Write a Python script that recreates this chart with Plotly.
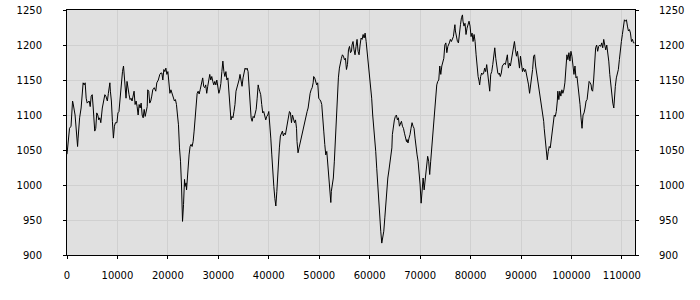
import plotly.graph_objects as go

# (x, value) pairs, split in segments along x
seg_a = [(0,1044),(200,1062),(500,1081),(800,1084),(1100,1120),(1200,1117),(1600,1100),(1800,1077),(2100,1055),(2200,1067),(2500,1096),(2800,1110),(3000,1129),(3200,1146),(3400,1143),(3600,1146),(3800,1124),(4000,1117),(4400,1120),(4600,1112),(4800,1127),(5000,1129),(5200,1110),(5500,1077),(5700,1081),(5900,1103),(6100,1100),(6300,1093),(6500,1096),(6700,1089),(7000,1110),(7300,1120),(7500,1129),(7700,1127),(8000,1120),(8200,1131),(8500,1146),(8600,1134),(8800,1120),(9000,1091),(9200,1067),(9400,1084),(9600,1089),(9900,1089),(10100,1103),(10300,1105),(10600,1134),(10800,1153),(11000,1162),(11200,1170),(11400,1155),(11600,1141),(11700,1124),(11900,1148),(12100,1134),(12300,1129),(12500,1122),(12700,1124),(12900,1120),(13100,1127),(13300,1134),(13500,1115),(13700,1120),(13900,1112),(14100,1100),(14300,1115),(14500,1110),(14700,1117),(14900,1100),(15100,1096),(15300,1108),(15500,1098),(15700,1105),(15900,1112),(16000,1136),(16200,1134),(16400,1117),(16600,1120),(16800,1127),(17000,1136),(17300,1139),(17600,1134),(17800,1146),(18100,1150),(18400,1158),(18600,1160)]

seg_b = [(18800,1160),(19000,1150),(19200,1165),(19400,1162),(19600,1167),(19800,1158),(20000,1162),(20200,1139),(20400,1131),(20600,1136),(20800,1131),(21100,1124),(21300,1120),(21500,1122),(21700,1115),(21900,1100),(22100,1086),(22300,1053),(22500,1034),(22700,1000),(22800,972),(22900,948),(23100,972),(23200,991),(23300,1008),(23400,998),(23600,1003),(23700,993),(23800,1005),(24000,1029),(24200,1043),(24400,1055),(24600,1058),(24800,1055),(25000,1062),(25200,1077),(25400,1100),(25600,1120),(25800,1131),(26000,1134),(26200,1130),(26400,1136),(26600,1143),(26800,1150),(26900,1153),(27100,1141),(27300,1139),(27500,1143),(27700,1131),(27900,1141),(28100,1153),(28300,1158),(28500,1150),(28700,1155),(28900,1148),(29100,1143),(29300,1148),(29500,1143),(29700,1150),(29900,1141),(30100,1131),(30300,1136),(30500,1145),(30700,1162),(30900,1177),(31100,1162),(31300,1155),(31500,1162),(31700,1150),(31900,1153),(32100,1129),(32300,1110),(32500,1093),(32700,1098),(32900,1096),(33100,1105),(33300,1115),(33500,1134),(33700,1139),(33900,1143),(34100,1150),(34300,1158),(34500,1150),(34700,1141),(34900,1153),(35100,1162),(35300,1167),(35500,1165),(35700,1167),(35900,1162),(36100,1139),(36300,1120),(36500,1096),(36700,1091),(36900,1098),(37100,1096),(37300,1103),(37500,1108),(37700,1124),(37900,1143)]

seg_c = [(38000,1139),(38200,1134),(38400,1129),(38600,1115),(38800,1103),(39000,1105),(39200,1100),(39400,1093),(39600,1098),(39800,1100),(40000,1105),(40200,1091),(40400,1067),(40600,1043),(40800,1010),(41000,998),(41200,981),(41400,970),(41600,991),(41800,1020),(41900,1034),(42100,1053),(42300,1070),(42500,1074),(42700,1077),(42900,1070),(43100,1074),(43300,1072),(43500,1081),(43700,1091),(43900,1096),(44100,1105),(44300,1103),(44500,1089),(44700,1100),(44900,1096),(45100,1089),(45300,1093),(45500,1081),(45600,1062),(45800,1046),(46000,1053),(46200,1060),(46400,1067),(46600,1072),(46800,1081),(47000,1089),(47200,1093),(47400,1100),(47600,1105),(47800,1110),(48000,1122),(48200,1131),(48400,1136),(48600,1139),(48800,1146),(48900,1155),(49100,1153),(49300,1146),(49500,1143),(49700,1146),(49900,1124),(50100,1122),(50300,1120),(50500,1115),(50700,1100),(50900,1077),(51100,1058),(51300,1043),(51500,1048),(51700,1029),(51900,1000),(52100,991),(52300,975),(52400,991),(52600,998),(52800,1010),(53000,1034),(53200,1067),(53400,1100),(53600,1129),(53800,1153),(54000,1167),(54200,1177),(54400,1181),(54600,1186),(54800,1184),(55000,1179),(55200,1181),(55400,1165),(55600,1172),(55800,1193),(56000,1198),(56200,1189),(56400,1191),(56500,1200),(56700,1205)]

seg_d = [(56900,1193),(57100,1186),(57300,1198),(57500,1208),(57700,1191),(57900,1186),(58100,1200),(58300,1210),(58500,1208),(58700,1215),(58900,1210),(59100,1217),(59300,1205),(59500,1191),(59700,1177),(59800,1167),(60000,1158),(60200,1148),(60400,1124),(60600,1100),(60800,1086),(61000,1067),(61200,1048),(61400,1024),(61600,1000),(61800,972),(62000,943),(62200,934),(62400,917),(62600,924),(62800,934),(63000,953),(63200,972),(63400,1000),(63600,1010),(63800,1020),(64000,1029),(64200,1039),(64400,1053),(64500,1072),(64700,1086),(64900,1093),(65100,1098),(65300,1100),(65500,1093),(65700,1096),(65900,1084),(66100,1089),(66300,1091),(66500,1084),(66700,1081),(66900,1074),(67100,1067),(67300,1062),(67400,1065),(67600,1060),(67800,1067),(68000,1072),(68200,1081),(68400,1089),(68600,1084),(68800,1081),(69000,1067),(69200,1048),(69400,1043),(69600,1034),(69800,1020),(70000,1000),(70200,974),(70400,996),(70600,1010),(70800,993),(70900,1000),(71100,1010),(71300,1029),(71500,1041),(71700,1034),(71900,1015),(72100,1034),(72300,1053),(72500,1067),(72700,1086),(72900,1105),(73100,1129),(73300,1143),(73500,1148),(73700,1150),(73900,1170),(74100,1158),(74300,1170),(74500,1177),(74700,1181),(74900,1200),(75100,1203),(75300,1189),(75500,1198)]

seg_e = [(75800,1203),(76000,1208),(76200,1205),(76400,1210),(76600,1212),(76800,1224),(76900,1229),(77000,1220),(77200,1210),(77400,1205),(77600,1203),(77800,1220),(78000,1229),(78200,1239),(78400,1243),(78500,1234),(78700,1227),(78900,1231),(79100,1215),(79300,1224),(79500,1231),(79700,1234),(79900,1227),(80100,1212),(80300,1217),(80500,1205),(80700,1215),(80900,1205),(81100,1186),(81300,1162),(81500,1155),(81700,1148),(81800,1143),(82000,1155),(82200,1160),(82400,1158),(82600,1160),(82800,1167),(83000,1162),(83200,1172),(83400,1160),(83600,1153),(83800,1134),(84000,1158),(84200,1162),(84400,1172),(84600,1189),(84800,1196),(85000,1181),(85200,1165),(85400,1160),(85600,1158),(85700,1160),(85900,1155),(86100,1160),(86300,1170),(86500,1172),(86700,1174),(86900,1172),(87100,1179),(87300,1186),(87500,1167),(87700,1174),(87900,1170),(88100,1179),(88300,1189),(88500,1198),(88700,1205),(88900,1193),(89100,1184),(89300,1191),(89500,1177),(89700,1167),(89900,1184),(90100,1174),(90300,1162),(90500,1167),(90700,1162),(90900,1165),(91100,1158),(91300,1148),(91500,1143),(91700,1131),(91900,1143),(92100,1150),(92300,1165),(92500,1184),(92700,1186),(92900,1170),(93100,1160),(93300,1153),(93500,1143),(93700,1134),(93900,1120),(94100,1108),(94300,1100),(94500,1091)]

seg_f = [(94600,1081),(94800,1067),(95000,1053),(95200,1036),(95400,1048),(95600,1055),(95800,1053),(96000,1067),(96200,1072),(96400,1096),(96600,1100),(96800,1098),(97000,1105),(97200,1120),(97300,1134),(97500,1122),(97700,1134),(97900,1127),(98100,1136),(98300,1131),(98500,1136),(98700,1146),(98900,1162),(99100,1186),(99300,1179),(99500,1189),(99700,1177),(99900,1191),(100100,1184),(100300,1170),(100500,1158),(100700,1170),(100900,1153),(101100,1155),(101300,1143),(101500,1131),(101700,1115),(101900,1096),(102100,1081),(102300,1100),(102500,1103),(102700,1110),(102900,1120),(103100,1122),(103300,1139),(103500,1148),(103700,1146),(103900,1143),(104000,1136),(104200,1134),(104400,1150),(104600,1172),(104800,1196),(105000,1200),(105200,1191),(105400,1198),(105600,1200),(105800,1198),(106000,1203),(106200,1196),(106400,1208),(106600,1200),(106800,1193),(107000,1200),(107200,1189),(107400,1177),(107600,1158),(107800,1143),(108000,1124),(108200,1117),(108400,1110),(108500,1124),(108700,1141),(108900,1153),(109100,1158),(109300,1165),(109500,1179),(109700,1198),(109900,1205),(110100,1215),(110300,1227),(110500,1236),(110700,1234),(110900,1236),(111100,1227),(111300,1220),(111500,1222),(111700,1217),(111900,1205),(112100,1208),(112300,1203),(112500,1203)]

x_ticks = [0, 10000, 20000, 30000, 40000, 50000, 60000, 70000, 80000, 90000, 100000, 110000]
y_ticks = [900, 950, 1000, 1050, 1100, 1150, 1200, 1250]

points = seg_a + seg_b + seg_c + seg_d + seg_e + seg_f
xs = [p[0] for p in points]
ys = [p[1] for p in points]

FONT = dict(family="DejaVu Sans", size=10, color="black")

fig = go.Figure()
fig.add_trace(go.Scatter(x=xs, y=ys, mode="lines",
                         line=dict(color="black", width=1), hoverinfo="skip",
                         showlegend=False))
fig.add_trace(go.Scatter(x=xs, y=ys, mode="lines", yaxis="y2",
                         line=dict(color="rgba(0,0,0,0)", width=0),
                         hoverinfo="skip", showlegend=False))

fig.update_layout(
    width=700, height=300,
    margin=dict(l=67, r=65, t=10, b=45, autoexpand=False),
    paper_bgcolor="white", plot_bgcolor="#e0e0e0",
    font=FONT,
    xaxis=dict(range=[0, 112600], tickvals=x_ticks,
               ticktext=[str(v) for v in x_ticks],
               showgrid=True, gridcolor="#d0d0d0", gridwidth=1,
               showline=True, linecolor="black", linewidth=1, mirror=True,
               ticks="outside", ticklen=3, tickcolor="black",
               tickfont=FONT, ticklabelstandoff=8, zeroline=False,
               automargin=False),
    yaxis=dict(range=[900, 1250], tickvals=y_ticks,
               showgrid=True, gridcolor="#d0d0d0", gridwidth=1,
               showline=True, linecolor="black", linewidth=1,
               ticks="outside", ticklen=3, tickcolor="black",
               tickfont=FONT, ticklabelstandoff=19, zeroline=False,
               automargin=False),
    yaxis2=dict(range=[900, 1250], tickvals=y_ticks, overlaying="y",
                side="right", showgrid=False,
                showline=True, linecolor="black", linewidth=1,
                ticks="outside", ticklen=3, tickcolor="black",
                tickfont=FONT, ticklabelstandoff=18, zeroline=False,
                automargin=False),
)

fig.write_html("out.html")
